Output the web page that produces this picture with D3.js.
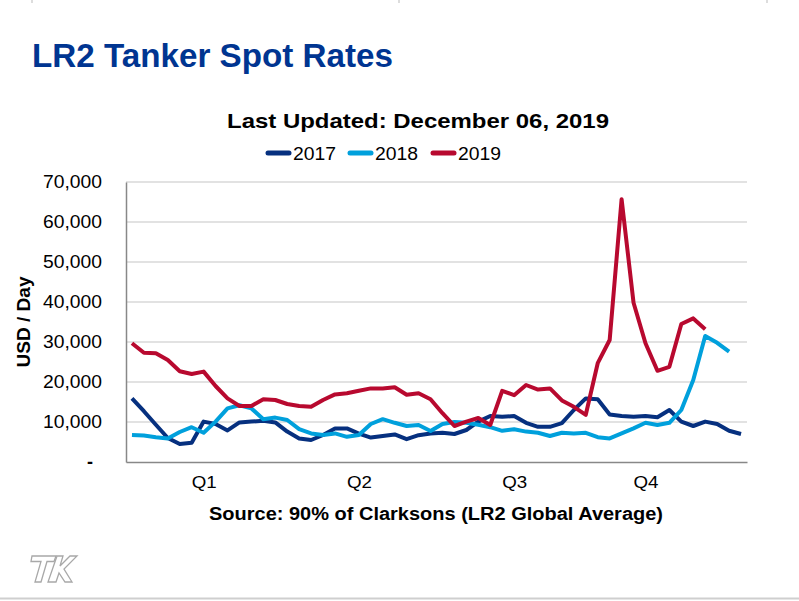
<!DOCTYPE html>
<html>
<head>
<meta charset="utf-8">
<script src="https://cdn.jsdelivr.net/npm/d3@7"></script>
<style>
  html, body { margin: 0; padding: 0; background: #fff; }
  svg { display: block; font-family: "Liberation Sans", Arial, sans-serif; }
</style>
</head>
<body>
<svg id="chart" width="799" height="601"></svg>
<script>
// ---- Data ----
const years = ["2017", "2018", "2019"];
const colors = ["#06307f", "#00a0dc", "#b8092f"];
const weeks = d3.range(1, 53);
const rates2017 = [15900,12700,9300,6000,4500,4800,10100,9500,7900,9900,10100,10300,9900,7600,5900,5500,6750,8400,8400,7100,6100,6500,6900,5700,6700,7150,7300,7000,8000,10100,11500,11300,11500,9800,8800,8800,9700,13000,15900,15700,11900,11500,11300,11500,11200,13000,10100,9000,10100,9500,7800,7000];
const rates2018 = [6750,6600,6200,5900,7500,8700,7300,10100,13400,14200,13400,10700,11100,10500,8200,7150,6750,7150,6300,6750,9500,10700,9800,9000,9250,7750,9500,10000,9800,9300,8700,7800,8200,7600,7300,6500,7300,7150,7300,6200,5900,7150,8400,9800,9250,9800,13000,20500,31500,29800,27600];
const rates2019 = [29700,27300,27200,25500,22700,22000,22600,19000,15900,14000,14000,15700,15500,14500,14000,13800,15500,16900,17200,17800,18400,18400,18700,16800,17200,15700,12200,9000,10100,11000,9250,17800,16700,19250,18100,18400,15400,13800,11800,24700,30500,65700,39800,29700,22800,23800,34500,35900,33200];
const quarterWeeks = [7, 20, 33, 44];
const quarterLabels = ["Q1", "Q2", "Q3", "Q4"];
const yTicks = [0, 10000, 20000, 30000, 40000, 50000, 60000, 70000];

const series = [rates2017, rates2018, rates2019];

// ---- Layout ----
const svg = d3.select("#chart");
const plotL = 126, plotR = 747, plotT = 182, plotB = 462;

const x = d3.scalePoint().domain(weeks).range([plotL, plotR]).padding(0.5);
const y = d3.scaleLinear().domain([0, 70000]).range([plotB, plotT]);

// top small marks & bottom rule
[32, 399, 767].forEach(px => svg.append("line").attr("x1", px).attr("x2", px).attr("y1", 0).attr("y2", 3).attr("stroke", "#bbb").attr("stroke-width", 1));
svg.append("line").attr("x1", 0).attr("x2", 799).attr("y1", 598.5).attr("y2", 598.5).attr("stroke", "#cfcfcf").attr("stroke-width", 2);

// Title
svg.append("text").attr("x", 32).attr("y", 67)
  .attr("font-size", 33).attr("font-weight", "bold").attr("fill", "#003591")
  .attr("textLength", 361).attr("lengthAdjust", "spacingAndGlyphs")
  .text("LR2 Tanker Spot Rates");

// Subtitle
svg.append("text").attr("x", 227).attr("y", 128)
  .attr("font-size", 21).attr("font-weight", "bold").attr("fill", "#000")
  .attr("textLength", 382).attr("lengthAdjust", "spacingAndGlyphs")
  .text("Last Updated: December 06, 2019");

// Legend
const legendX = [266, 348, 431];
years.forEach((yr, i) => {
  const g = svg.append("g");
  g.append("line").attr("x1", legendX[i] + 2).attr("x2", legendX[i] + 23)
    .attr("y1", 153).attr("y2", 153)
    .attr("stroke", colors[i]).attr("stroke-width", 5).attr("stroke-linecap", "round");
  g.append("text").attr("x", legendX[i] + 27).attr("y", 159.5)
    .attr("font-size", 18).attr("fill", "#000")
    .attr("textLength", 43).attr("lengthAdjust", "spacingAndGlyphs")
    .text(yr);
});

// Gridlines
svg.append("g").selectAll("line").data(yTicks.filter(d => d > 0)).join("line")
  .attr("x1", plotL).attr("x2", plotR)
  .attr("y1", d => y(d)).attr("y2", d => y(d))
  .attr("stroke", "#d9d9d9").attr("stroke-width", 1.5);

// Y axis
const yAxis = d3.axisLeft(y).tickValues(yTicks).tickSize(0).tickPadding(24)
  .tickFormat(d => d === 0 ? "-" : d3.format(",")(d));
const yg = svg.append("g").attr("transform", `translate(${plotL},0)`).call(yAxis);
yg.select(".domain").attr("stroke", "#888").attr("stroke-width", 1.5);
yg.selectAll("text").attr("font-size", 18).attr("fill", "#000")
  .attr("font-family", "'Liberation Sans', Arial, sans-serif")
  .attr("textLength", 59).attr("lengthAdjust", "spacingAndGlyphs");
yg.selectAll(".tick").filter(d => d === 0).select("text")
  .attr("textLength", null).attr("text-anchor", "middle").attr("x", -36).attr("font-weight", "bold");

// X axis
const xAxis = d3.axisBottom(x).tickValues(quarterWeeks).tickSize(0).tickPadding(14)
  .tickFormat((d, i) => quarterLabels[i]);
const xg = svg.append("g").attr("transform", `translate(0,${plotB})`).call(xAxis);
xg.select(".domain").attr("stroke", "#888").attr("stroke-width", 1.5);
xg.selectAll("text").attr("font-size", 17).attr("fill", "#000")
  .attr("font-family", "'Liberation Sans', Arial, sans-serif")
  .attr("textLength", 25).attr("lengthAdjust", "spacingAndGlyphs");

// Y title
svg.append("text").attr("transform", "translate(30,322) rotate(-90)")
  .attr("text-anchor", "middle").attr("font-size", 18).attr("font-weight", "bold")
  .attr("textLength", 91).attr("lengthAdjust", "spacingAndGlyphs")
  .text("USD / Day");

// Source
svg.append("text").attr("x", 209).attr("y", 520)
  .attr("font-size", 18).attr("font-weight", "bold").attr("fill", "#000")
  .attr("textLength", 454).attr("lengthAdjust", "spacingAndGlyphs")
  .text("Source: 90% of Clarksons (LR2 Global Average)");

// Lines
const line = d3.line().x((d, i) => x(weeks[i])).y(d => y(d));
series.forEach((s, i) => {
  svg.append("path").datum(s)
    .attr("d", line)
    .attr("fill", "none").attr("stroke", colors[i])
    .attr("stroke-width", 4).attr("stroke-linejoin", "round").attr("stroke-linecap", "butt");
});

// Logo (outlined TK)
const logo = svg.append("g").attr("fill", "#fff").attr("stroke", "#a8a8a8").attr("stroke-width", 1.3);
logo.append("path").attr("d", "M32,556 L56,556 L54,561.5 L47,561.5 L41,582 L35,582 L41,561.5 L31,561.5 Z");
logo.append("path").attr("d", "M57,556 L63,556 L60,566 L70,556 L77,556 L64,569 L72,582 L65,582 L59,573 L56,582 L48,582 Z");
</script>
</body>
</html>
